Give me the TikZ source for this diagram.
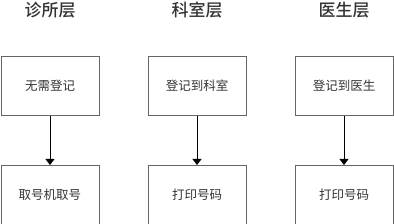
\documentclass[tikz,border=0pt]{standalone}
\usepackage{fontspec}
\newfontfamily\cjk[BoldFont={Noto Sans CJK SC Medium}]{Noto Sans CJK SC}
\usetikzlibrary{arrows.meta, positioning}

\begin{document}
\begin{tikzpicture}[
  x=1pt, y=1pt,
  node distance=49pt,
  %% box styles
  box/.style={
    rectangle, minimum width=98pt, minimum height=59pt,
    align=center, draw=black!60, line width=1pt,
    font=\cjk\fontsize{12.5}{14}\selectfont, text=black!80},
  head/.style={font=\cjk\bfseries\fontsize{17}{19}\selectfont, text=black!80},
  arr/.style={-{Triangle[width=9pt, length=6pt]}, line width=1pt, black}
]
\useasboundingbox (0,0) rectangle (394,-224);

%% ── Row 0: level headers ─────────────────────────────────────────────────
\node[head] (clinic) at (50,-10)  {诊所层};
\node[head] (dept)   at (197,-10) {科室层};
\node[head] (doctor) at (344,-10) {医生层};

%% ── Row 1: registration ──────────────────────────────────────────────────
\node[box] (noreg)   at (50,-86)  {无需登记};
\node[box] (regdept) at (197,-86) {登记到科室};
\node[box] (regdoc)  at (344,-86) {登记到医生};

%% ── Row 2: ticket ────────────────────────────────────────────────────────
\node[box, below=of noreg]   (takenum)  {取号机取号};
\node[box, below=of regdept] (printdept) {打印号码};
\node[box, below=of regdoc]  (printdoc)  {打印号码};

%% ── Arrows ───────────────────────────────────────────────────────────────
\draw[arr] (noreg)   -- (takenum);
\draw[arr] (regdept) -- (printdept);
\draw[arr] (regdoc)  -- (printdoc);

\end{tikzpicture}
\end{document}
